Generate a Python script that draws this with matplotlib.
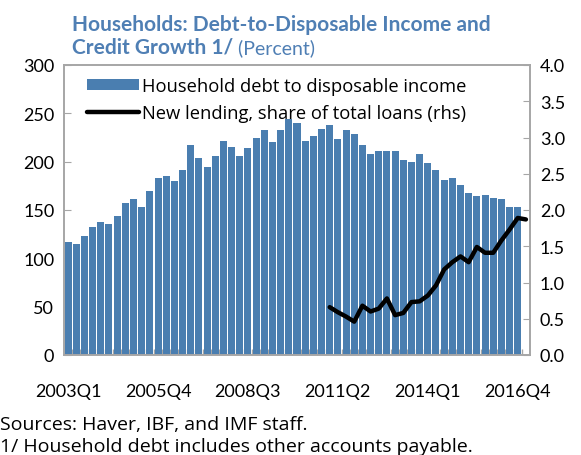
import matplotlib
matplotlib.use("Agg")
import matplotlib.pyplot as plt
import numpy as np

plt.rcParams["font.family"] = ["Lato", "DejaVu Sans"]

# quarterly data, 2003Q1 .. 2017Q1 (debt ratio ends at 2016Q4)
quarters = [f"{y}Q{q}" for y in range(2003, 2018) for q in range(1, 5)][:57]

debt_to_income = [
    117, 115, 123, 132, 138, 136, 144, 157, 161, 153,
    170, 183, 185, 180, 191, 217, 204, 195, 206, 221,
    215, 206, 214, 225, 233, 220, 233, 244, 240, 221,
    227, 234, 238, 223, 233, 229, 217, 208, 211, 211,
    211, 202, 200, 208, 199, 191, 181, 183, 176, 168,
    164, 166, 162, 161, 153, 153,
]

# new lending share starts in 2011Q1 (index 32)
lending_start = 32
new_lending = [
    0.66, 0.59, 0.53, 0.46, 0.68, 0.60, 0.64, 0.78, 0.55, 0.58,
    0.73, 0.74, 0.82, 0.96, 1.18, 1.28, 1.36, 1.28, 1.49, 1.41,
    1.41, 1.58, 1.73, 1.89, 1.87,
]

label_idx = [0, 11, 22, 33, 44, 55]

bar_color = "#4A7EB0"
title_color = "#4F7FB4"
spine_color = "#A6A6A6"
fs = 13
body_font = ["Open Sans", "DejaVu Sans"]

fig = plt.figure(figsize=(5.81, 4.56), dpi=100)
ax = fig.add_axes([64 / 581, 1 - 356 / 456, 466 / 581, 290 / 456])
ax2 = ax.twinx()

x = np.arange(len(debt_to_income))
bars = ax.bar(x, debt_to_income, width=0.86, color=bar_color, zorder=2)

xl = np.arange(lending_start, lending_start + len(new_lending))
line, = ax2.plot(xl, new_lending, color="black", lw=3.2,
                 solid_joinstyle="round", solid_capstyle="round")

ax.set_xlim(-0.5, len(quarters) - 0.5)
ax.set_ylim(0, 300)
ax.set_yticks(np.arange(0, 301, 50))
ax2.set_ylim(0, 4)
ax2.set_yticks(np.arange(0, 4.01, 0.5))
ax2.set_yticklabels([f"{v:.1f}" for v in np.arange(0, 4.01, 0.5)])

ax.set_xticks(label_idx)
ax.set_xticklabels([quarters[i] for i in label_idx])
ax.set_xticks(np.arange(0.5, len(quarters) - 1, 1), minor=True)
ax.tick_params(axis="x", which="major", length=0, pad=20, labelsize=fs)
ax.tick_params(axis="x", which="minor", direction="in", length=4,
               color=spine_color, width=1)
ax.tick_params(axis="y", direction="in", length=5, color=spine_color,
               labelsize=fs, pad=7)
ax2.tick_params(axis="y", direction="in", length=5, color=spine_color,
                labelsize=fs, pad=7)

for a in (ax, ax2):
    for s in a.spines.values():
        s.set_color(spine_color)
        s.set_linewidth(1.2)

ax2.legend([bars, line],
           ["Household debt to disposable income",
            "New lending, share of total loans (rhs)"],
           loc="upper left", bbox_to_anchor=(0.05, 0.96), frameon=False,
           prop={"family": body_font, "size": 13.2},
           handlelength=2.8, handleheight=0.55,
           handletextpad=0.2, labelspacing=0.5, borderpad=0,
           borderaxespad=0)

tfs = 15
fig.text(72 / 581, 1 - 25 / 456, "Households: Debt-to-Disposable Income and",
         fontsize=tfs, fontweight="bold", color=title_color, va="center")
t2 = fig.text(72 / 581, 1 - 47 / 456, "Credit Growth 1/",
              fontsize=tfs, fontweight="bold", color=title_color, va="center")
ax.annotate(" (Percent)", xy=(1, 0), xycoords=t2, va="bottom",
            fontsize=tfs - 1, color=title_color, annotation_clip=False)

fig.text(0.0, 1 - 425 / 456, "Sources: Haver, IBF, and IMF staff.",
         fontsize=14, family=body_font, va="center")
fig.text(0.0, 1 - 447 / 456, "1/ Household debt includes other accounts payable.",
         fontsize=14, family=body_font, va="center")

fig.savefig("out.png", dpi=100)
